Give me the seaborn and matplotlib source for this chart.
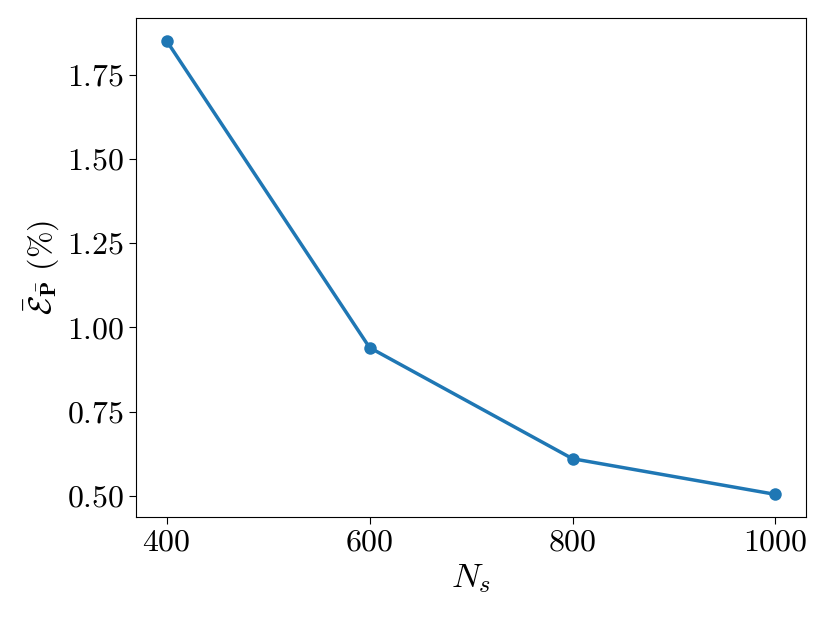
import numpy as np
import pandas as pd
import matplotlib
matplotlib.use('Agg')
import matplotlib.pyplot as plt
import seaborn as sns

# Valori
n_samples = [400, 600, 800, 1000]
errore_medio = [1.851, 0.940, 0.610, 0.504]

df = pd.DataFrame({'Ns': n_samples, 'err': errore_medio})

plt.rcParams['font.family'] = 'serif'
plt.rcParams['font.serif'] = ['cmr10', 'DejaVu Serif']
plt.rcParams['mathtext.fontset'] = 'cm'
plt.rcParams['axes.formatter.use_mathtext'] = True
plt.rcParams['axes.unicode_minus'] = False

fig, ax = plt.subplots(figsize=(8.3, 6.23), dpi=100)
sns.lineplot(data=df, x='Ns', y='err', marker='o', color='#1f77b4',
             linewidth=2.5, markersize=9, markeredgewidth=0, ax=ax)

ax.set_xticks([400, 600, 800, 1000])
ax.set_yticks([0.50, 0.75, 1.00, 1.25, 1.50, 1.75])
ax.set_xlabel(r'$N_s$', fontsize=25)
ax.set_ylabel(r'$\bar{\mathcal{E}}_{\bar{\mathbf{P}}}\ (\%)$', fontsize=23)
ax.tick_params(labelsize=23, length=5)

fig.subplots_adjust(left=0.164, right=0.971, top=0.971, bottom=0.170)
fig.savefig('out.png', dpi=100)
